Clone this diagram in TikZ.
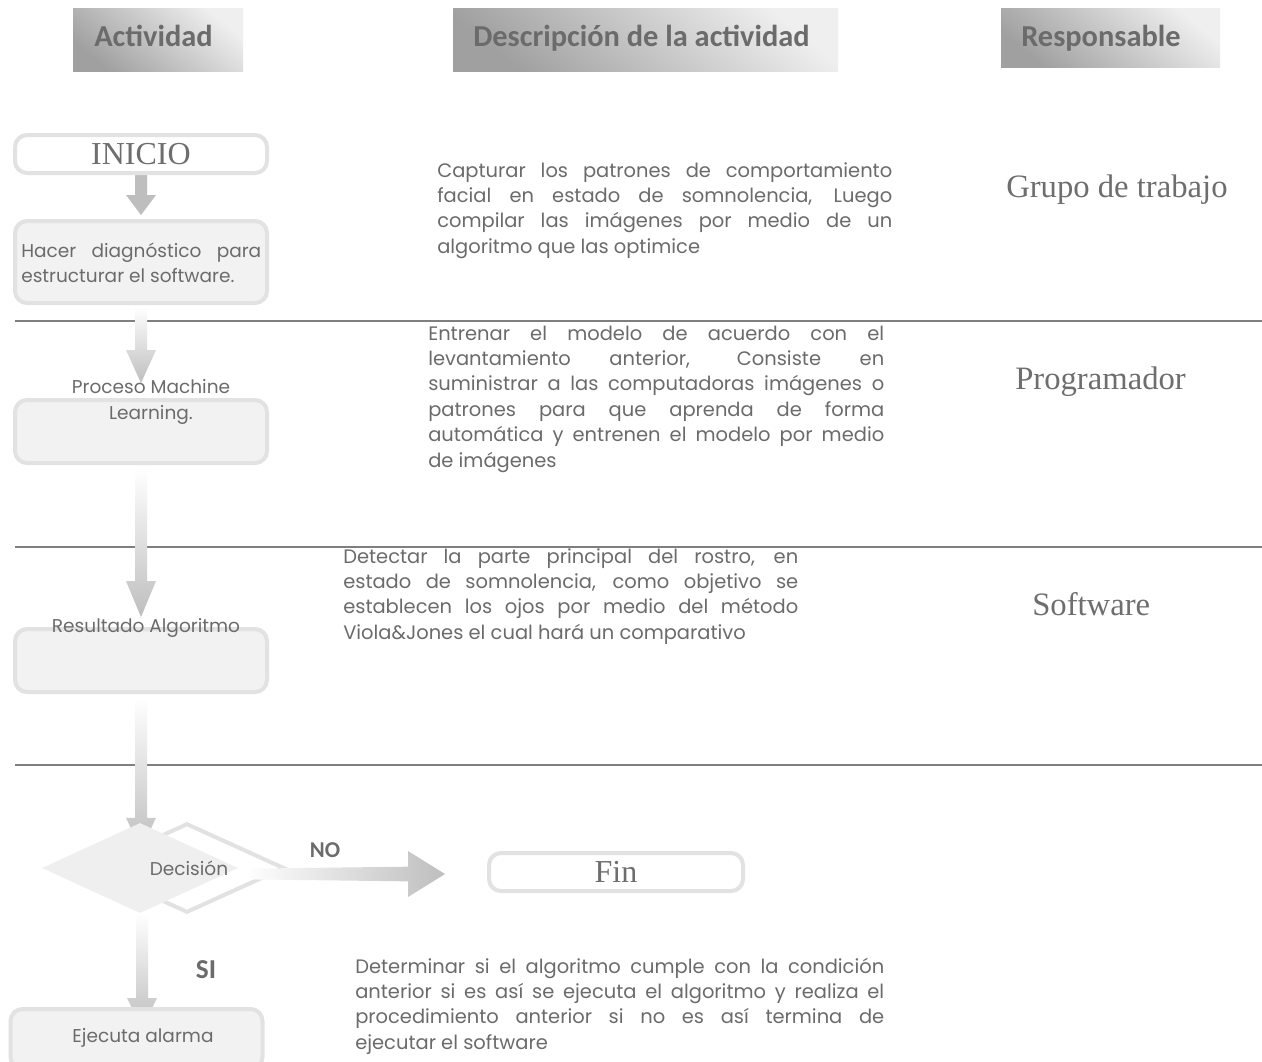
\documentclass[tikz,border=0pt]{standalone}
\usepackage{fontspec}
\setmainfont{Liberation Serif}
\newfontfamily\gothic{Poppins}
\newfontfamily\hdrfont{Carlito}
\usetikzlibrary{shapes.geometric,calc,backgrounds}
\definecolor{txt}{HTML}{6B6B6B}
\definecolor{boxline}{HTML}{E2E2E2}
\definecolor{boxfill}{HTML}{F2F2F2}
\definecolor{diafill}{HTML}{EFEFEF}
\definecolor{arrgray}{HTML}{BEBEBE}
\definecolor{hlinec}{HTML}{7F7F7F}
\definecolor{hdrdark}{HTML}{A0A0A0}
\definecolor{hdrlight}{HTML}{EFEFEF}
\definecolor{serifc}{HTML}{6E6E6E}
\newcommand\bodyfont{\gothic\fontsize{14.6}{19.1}\selectfont}
\newcommand\labelfont{\gothic\fontsize{13.9}{19.1}\selectfont}
\newcommand\vblk[4]{%
  \shade[top color=#4, bottom color=arrgray] let \p1=(#1), \p2=(#2) in
    (\x1-4.5pt,\y1) -- (\x1+4.5pt,\y1) -- (\x1+4.5pt,\y2+#3) -- (\x1+11.25pt,\y2+#3)
    -- (\x1,\y2) -- (\x1-11.25pt,\y2+#3) -- (\x1-4.5pt,\y2+#3) -- cycle;}
\begin{document}
\begin{tikzpicture}[x=0.75pt,y=-0.75pt,
  hdr/.style={top color=hdrlight, bottom color=hdrdark, shading angle=-40, inner sep=0},
  hdrtext/.style={font=\hdrfont\bfseries\fontsize{22.8}{26}\selectfont, text=txt, inner sep=0, anchor=base west},
  flowbox/.style={draw=boxline, line width=3pt, rounded corners=9pt, fill=boxfill, inner sep=0},
  endbox/.style={flowbox, fill=white, font=\fontsize{24}{28}\selectfont, text=serifc},
  body/.style={font=\bodyfont, text=txt, inner sep=0, align=justify, anchor=base west},
  lbl/.style={font=\labelfont, text=txt, inner sep=0, anchor=base},
  who/.style={font=\fontsize{24.5}{28}\selectfont, text=serifc, inner sep=0, anchor=base west},
  yesno/.style={font=\hdrfont\bfseries\fontsize{17}{20}\selectfont, text=txt, inner sep=0, anchor=base},
  hline/.style={draw=hlinec, line width=0.8pt}]
\useasboundingbox (0,0) rectangle (1262,1061);

% headers
\node[hdr, minimum width=127.5pt, minimum height=47.25pt] (h1) at (158,39.5) {};
\node[hdr, minimum width=288.75pt, minimum height=47.25pt] (h2) at (645.5,39.5) {};
\node[hdr, minimum width=164.25pt, minimum height=44.25pt] (h3) at (1110.5,37.5) {};
\node[hdrtext] (h1t) at (94,46) {Actividad};
\node[hdrtext] (h2t) at (473,46) {Descripción de la actividad};
\node[hdrtext] (h3t) at (1021,46) {Responsable};

% activity boxes
\node[endbox, minimum width=189pt, minimum height=28.5pt] (inicio) at (141,154) {INICIO};
\node[flowbox, minimum width=189pt, minimum height=61.5pt] (hacer) at (141,262) {};
\node[flowbox, minimum width=189pt, minimum height=47.25pt] (proc) at (141,431.5) {};
\node[flowbox, minimum width=189pt, minimum height=47.25pt] (res) at (141,660.5) {};
\node[flowbox, minimum width=189pt, minimum height=45pt] (ejec) at (136.5,1039) {};
\node[endbox, minimum width=190.5pt, minimum height=28.5pt] (fin) at (616,872) {Fin};

% decision diamonds
\node[diamond, draw=boxline, line width=3pt, fill=white, minimum width=146pt, minimum height=67pt, inner sep=0] (decout) at (187,868) {};
\node[diamond, fill=diafill, minimum width=147pt, minimum height=67.5pt, inner sep=0] (dec) at (140,868) {};

% background: page, separators and vertical arrows
\begin{pgfonlayer}{background}
\fill[white] (0,0) rectangle (1262,1061);
\draw[hline] (15,321) -- (1262,321);
\draw[hline] (15,547) -- (1262,547);
\draw[hline] (15,765) -- (1262,765);
\vblk{inicio.south}{$(hacer.north)+(0,-4)$}{15pt}{arrgray}
\vblk{$(hacer.south)+(0,2)$}{$(proc.north)+(0,-15)$}{24.75pt}{white}
\vblk{$(proc.south)+(0,4)$}{$(res.north)+(0,-10)$}{27pt}{white}
\vblk{$(res.south)+(0,4)$}{$(dec.north)+(0,27)$}{24pt}{white}
\vblk{$(dec.south)+(2,0)$}{$(ejec.north)+(0,21)$}{22.5pt}{white}
\end{pgfonlayer}

% NO arrow
\coordinate (nostart) at ($(decout.east)+(-41,5)$);
\coordinate (notip) at ($(fin.west)+(-42,2)$);
\shade[left color=white, right color=arrgray] let \p1=(nostart), \p2=(notip) in
  (\x1,\y2+4pt) -- (\x2-27.75pt,\y2+5.5pt) -- (\x2-27.75pt,\y2+17.25pt) -- (\x2,\y2)
  -- (\x2-27.75pt,\y2-17.25pt) -- (\x2-27.75pt,\y2-5.5pt) -- (\x1,\y2-4pt) -- cycle;

% activity labels
\node[body, font=\labelfont, text width=180pt] (hacert) at (21,257) {Hacer diagnóstico para\linebreak estructurar el software.};
\node[lbl] (proct1) at (151,393) {Proceso Machine};
\node[lbl] (proct2) at (151,419) {Learning.};
\node[lbl] (rest) at (146,632) {Resultado Algoritmo};
\node[lbl] (dect) at (189,875) {Decisión};
\node[lbl] (eject) at (143,1042) {Ejecuta alarma};
\node[yesno] (no) at (325,857) {NO};
\node[yesno, font=\hdrfont\bfseries\fontsize{20.5}{22}\selectfont] (si) at (206,978) {SI};

% descriptions
\node[body, text width=341.25pt] (d1) at (437,177) {Capturar los patrones de comportamiento\linebreak facial en estado de somnolencia, Luego\linebreak compilar las imágenes por medio de un\linebreak algoritmo que las optimice};
\node[body, text width=342pt] (d2) at (428,340) {Entrenar el modelo de acuerdo con el\linebreak levantamiento anterior, Consiste en\linebreak suministrar a las computadoras imágenes o\linebreak patrones para que aprenda de forma\linebreak automática y entrenen el modelo por medio\linebreak de imágenes};
\node[body, text width=341.25pt] (d3) at (343,563) {Detectar la parte principal del rostro, en\linebreak estado de somnolencia, como objetivo se\linebreak establecen los ojos por medio del método\linebreak Viola\&Jones el cual hará un comparativo};
\node[body, text width=396.75pt] (d4) at (355,973) {Determinar si el algoritmo cumple con la condición\linebreak anterior si es así se ejecuta el algoritmo y realiza el\linebreak procedimiento anterior si no es así termina de\linebreak ejecutar el software};

% responsible
\node[who] (r1) at (1006,197) {Grupo de trabajo};
\node[who] (r2) at (1015,389) {Programador};
\node[who] (r3) at (1032,615) {Software};
\end{tikzpicture}
\end{document}
